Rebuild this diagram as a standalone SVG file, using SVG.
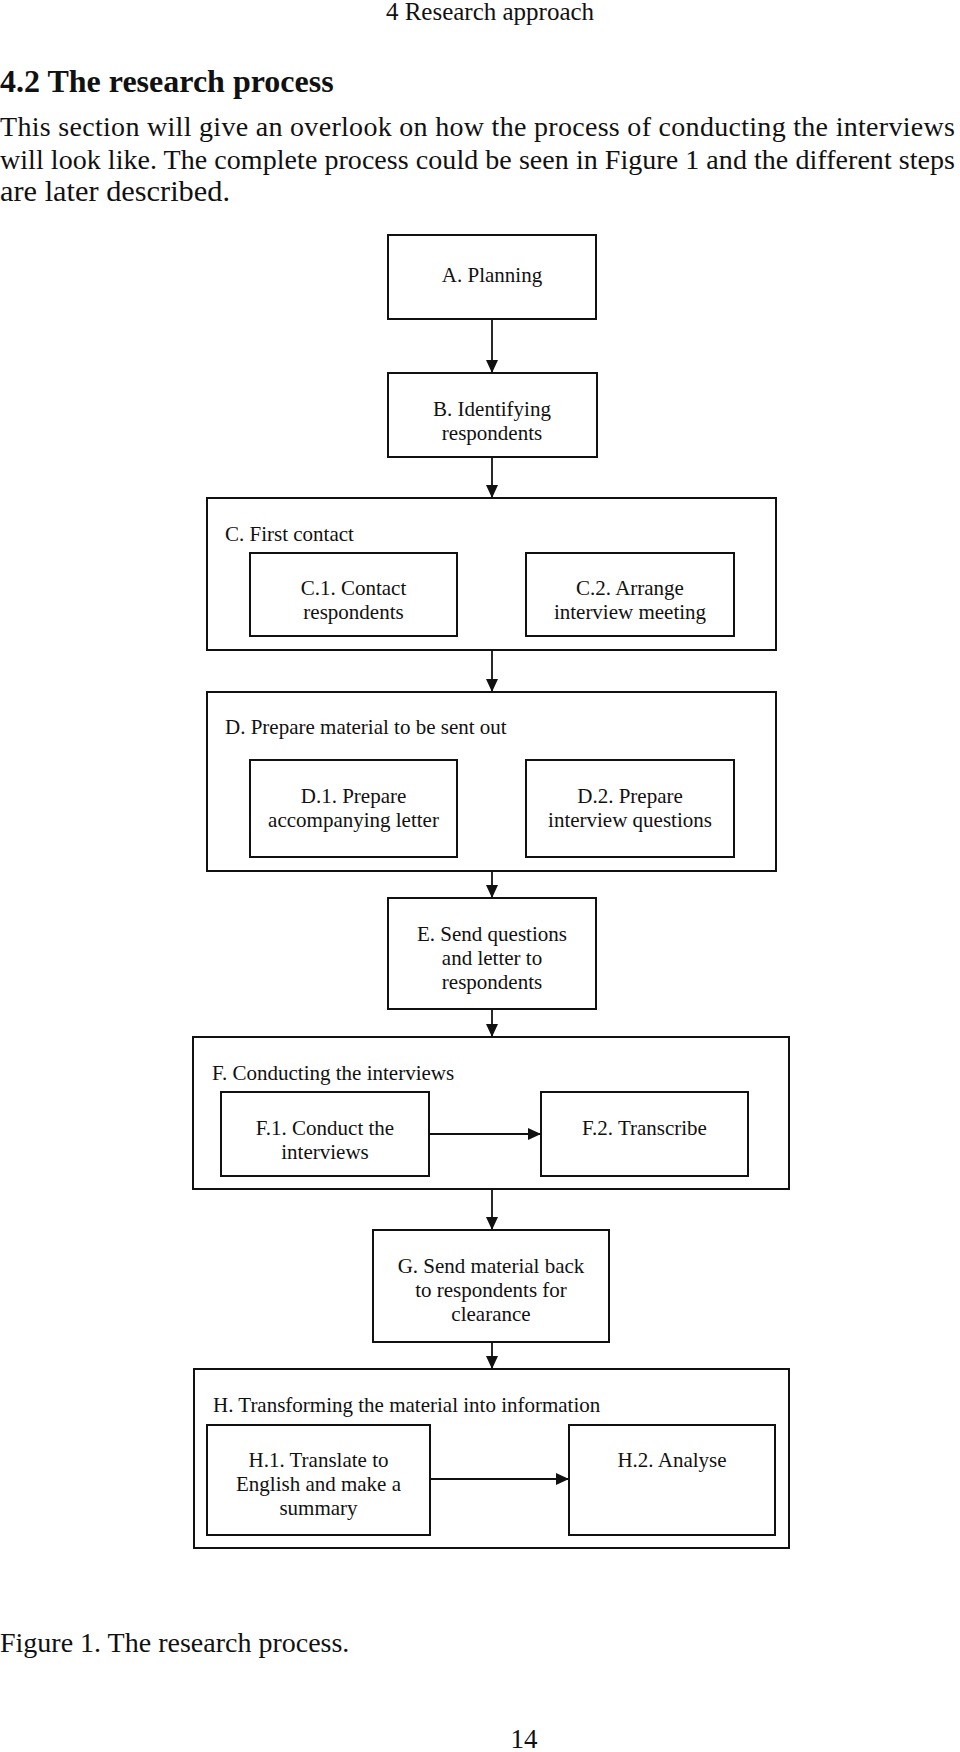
<svg xmlns="http://www.w3.org/2000/svg" width="960" height="1752" viewBox="0 0 960 1752">
  <style>
    .page { font-family: "Liberation Serif", "Times New Roman", serif; fill: #111; }
    .lbl { font-family: "Liberation Serif", "Times New Roman", serif; font-size: 21px; fill: #111; }
    .c { text-anchor: middle; }
    .box { fill: #fff; stroke: #111; stroke-width: 2; }
    .con { stroke: #111; stroke-width: 1.8; fill: none; marker-end: url(#arr); }
  </style>
  <defs>
    <marker id="arr" viewBox="0 0 13 12" refX="13" refY="6" markerWidth="13" markerHeight="12" markerUnits="userSpaceOnUse" orient="auto">
      <path d="M0,0 L13,6 L0,12 z" fill="#111"/>
    </marker>
  </defs>
  <rect width="960" height="1752" fill="#fff"/>

  <g id="page-text" class="page">
    <text x="490" y="20" font-size="25" text-anchor="middle">4 Research approach</text>
    <text x="0" y="92" font-size="32" font-weight="bold">4.2 The research process</text>
    <text x="0" y="136" font-size="28" textLength="955" lengthAdjust="spacing">This section will give an overlook on how the process of conducting the interviews</text>
    <text x="0" y="169" font-size="28" textLength="955" lengthAdjust="spacing">will look like. The complete process could be seen in Figure 1 and the different steps</text>
    <text x="0" y="201" font-size="29" textLength="230" lengthAdjust="spacingAndGlyphs">are later described.</text>
    <text x="0" y="1652" font-size="28">Figure 1. The research process.</text>
    <text x="524" y="1748" font-size="27" text-anchor="middle">14</text>
  </g>

  <g id="node-A">
    <rect class="box" x="388" y="235" width="208" height="84"/>
    <text class="lbl c" x="492" y="282">A. Planning</text>
  </g>
  <g id="node-B">
    <rect class="box" x="388" y="373" width="209" height="84"/>
    <text class="lbl c" x="492" y="416">B. Identifying</text>
    <text class="lbl c" x="492" y="440">respondents</text>
  </g>
  <g id="node-C">
    <rect class="box" x="207" y="498" width="569" height="152"/>
    <text class="lbl" x="225" y="541">C. First contact</text>
  </g>
  <g id="node-C1">
    <rect class="box" x="250" y="553" width="207" height="83"/>
    <text class="lbl c" x="353.5" y="595">C.1. Contact</text>
    <text class="lbl c" x="353.5" y="619">respondents</text>
  </g>
  <g id="node-C2">
    <rect class="box" x="526" y="553" width="208" height="83"/>
    <text class="lbl c" x="630" y="595">C.2. Arrange</text>
    <text class="lbl c" x="630" y="619">interview meeting</text>
  </g>
  <g id="node-D">
    <rect class="box" x="207" y="692" width="569" height="179"/>
    <text class="lbl" x="225" y="734">D. Prepare material to be sent out</text>
  </g>
  <g id="node-D1">
    <rect class="box" x="250" y="760" width="207" height="97"/>
    <text class="lbl c" x="353.5" y="803">D.1. Prepare</text>
    <text class="lbl c" x="353.5" y="827">accompanying letter</text>
  </g>
  <g id="node-D2">
    <rect class="box" x="526" y="760" width="208" height="97"/>
    <text class="lbl c" x="630" y="803">D.2. Prepare</text>
    <text class="lbl c" x="630" y="827">interview questions</text>
  </g>
  <g id="node-E">
    <rect class="box" x="388" y="898" width="208" height="111"/>
    <text class="lbl c" x="492" y="941">E. Send questions</text>
    <text class="lbl c" x="492" y="965">and letter to</text>
    <text class="lbl c" x="492" y="989">respondents</text>
  </g>
  <g id="node-F">
    <rect class="box" x="193" y="1037" width="596" height="152"/>
    <text class="lbl" x="212" y="1080">F. Conducting the interviews</text>
  </g>
  <g id="node-F1">
    <rect class="box" x="221" y="1092" width="208" height="84"/>
    <text class="lbl c" x="325" y="1135">F.1. Conduct the</text>
    <text class="lbl c" x="325" y="1159">interviews</text>
  </g>
  <g id="node-F2">
    <rect class="box" x="541" y="1092" width="207" height="84"/>
    <text class="lbl c" x="644.5" y="1135">F.2. Transcribe</text>
  </g>
  <g id="node-G">
    <rect class="box" x="373" y="1230" width="236" height="112"/>
    <text class="lbl c" x="491" y="1273">G. Send material back</text>
    <text class="lbl c" x="491" y="1297">to respondents for</text>
    <text class="lbl c" x="491" y="1321">clearance</text>
  </g>
  <g id="node-H">
    <rect class="box" x="194" y="1369" width="595" height="179"/>
    <text class="lbl" x="213" y="1412">H. Transforming the material into information</text>
  </g>
  <g id="node-H1">
    <rect class="box" x="207" y="1425" width="223" height="110"/>
    <text class="lbl c" x="318.5" y="1467">H.1. Translate to</text>
    <text class="lbl c" x="318.5" y="1491">English and make a</text>
    <text class="lbl c" x="318.5" y="1515">summary</text>
  </g>
  <g id="node-H2">
    <rect class="box" x="569" y="1425" width="206" height="110"/>
    <text class="lbl c" x="672" y="1467">H.2. Analyse</text>
  </g>

  <g id="connectors">
    <line class="con" x1="492" y1="319" x2="492" y2="373"/>
    <line class="con" x1="492" y1="457" x2="492" y2="498"/>
    <line class="con" x1="492" y1="650" x2="492" y2="692"/>
    <line class="con" x1="492" y1="871" x2="492" y2="898"/>
    <line class="con" x1="492" y1="1009" x2="492" y2="1037"/>
    <line class="con" x1="429" y1="1134" x2="541" y2="1134"/>
    <line class="con" x1="492" y1="1189" x2="492" y2="1230"/>
    <line class="con" x1="492" y1="1342" x2="492" y2="1369"/>
    <line class="con" x1="430" y1="1479" x2="569" y2="1479"/>
  </g>
</svg>
